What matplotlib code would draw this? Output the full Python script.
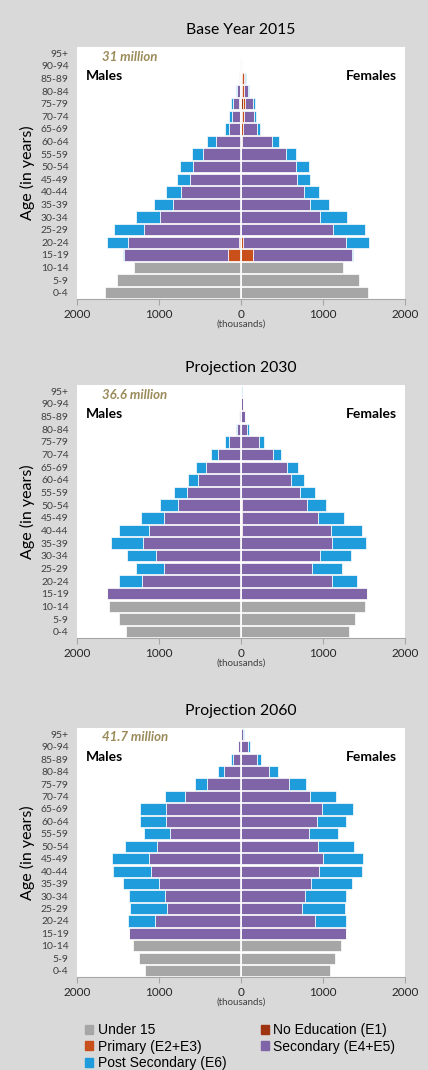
import numpy as np
import matplotlib
matplotlib.use("Agg")
import matplotlib.pyplot as plt
from matplotlib.patches import Patch

# grupos de edad (de abajo hacia arriba)
ages = ["0-4", "5-9", "10-14", "15-19", "20-24", "25-29", "30-34", "35-39", "40-44",
        "45-49", "50-54", "55-59", "60-64", "65-69", "70-74", "75-79", "80-84",
        "85-89", "90-94", "95+"]

# menores de 15 (0-4, 5-9, 10-14), en miles
m15_2015 = [1654, 1508, 1305]
f15_2015 = [1545, 1435, 1244]
m15_2030 = [1402, 1492, 1614]
f15_2030 = [1313, 1390, 1512]
m15_2060 = [1167, 1240, 1313]
f15_2060 = [1081, 1150, 1224]

# 15-19 ... 95+ por nivel educativo, en miles
# 2015
m_e1_2015 = [0, 0, 0, 0, 0, 0, 0, 0, 0, 0, 0, 4, 10, 6, 4, 1, 1]
m_e2_2015 = [154, 24, 4, 0, 0, 0, 0, 0, 2, 4, 8, 12, 14, 10, 4, 2, 1]
m_sec_2015 = [1268, 1354, 1183, 988, 829, 728, 622, 585, 459, 297, 134, 93, 73, 37, 12, 3, 1]
m_post_2015 = [12, 256, 362, 297, 232, 183, 159, 159, 142, 114, 49, 33, 24, 4, 8, 1, 1]
f_e1_2015 = [0, 0, 0, 0, 0, 0, 0, 0, 0, 6, 6, 15, 20, 14, 16, 5, 1]
f_e2_2015 = [146, 24, 0, 0, 0, 0, 0, 0, 2, 10, 14, 22, 28, 18, 16, 4, 1]
f_sec_2015 = [1207, 1256, 1122, 967, 846, 764, 683, 671, 541, 362, 175, 122, 102, 57, 20, 4, 2]
f_post_2015 = [16, 280, 394, 325, 232, 187, 154, 154, 126, 85, 41, 20, 16, 8, 4, 1, 1]

# 2030
m_e1_2030 = [0] * 17
m_e2_2030 = [0, 0, 0, 0, 0, 12, 12, 8, 0, 0, 0, 0, 0, 0, 0, 0, 0]
m_sec_2030 = [1630, 1203, 939, 1033, 1191, 1110, 927, 764, 659, 520, 427, 276, 142, 45, 20, 8, 3]
m_post_2030 = [0, 285, 337, 358, 390, 366, 285, 211, 163, 130, 122, 89, 53, 16, 8, 4, 3]
f_e1_2030 = [0] * 17
f_e2_2030 = [0, 0, 0, 0, 0, 12, 8, 8, 0, 0, 0, 0, 0, 0, 0, 0, 0]
f_sec_2030 = [1533, 1110, 866, 967, 1114, 1090, 935, 800, 724, 614, 561, 390, 224, 77, 45, 20, 4]
f_post_2030 = [0, 309, 362, 378, 411, 378, 313, 232, 175, 150, 130, 94, 53, 16, 8, 4, 4]

# 2060
m_e1_2060 = [0] * 17
m_e2_2060 = [0] * 17
m_sec_2060 = [1370, 1045, 898, 927, 996, 1093, 1118, 1020, 870, 911, 915, 683, 415, 211, 98, 33, 12]
m_post_2060 = [0, 329, 451, 439, 447, 467, 451, 390, 317, 325, 313, 240, 142, 65, 24, 8, 4]
f_e1_2060 = [0] * 17
f_e2_2060 = [0] * 17
f_sec_2060 = [1276, 902, 748, 780, 858, 955, 1000, 939, 829, 923, 992, 846, 585, 341, 195, 85, 28]
f_post_2060 = [0, 378, 516, 500, 500, 516, 488, 435, 358, 362, 370, 309, 203, 110, 49, 20, 9]

titles = ["Base Year 2015", "Projection 2030", "Projection 2060"]
totals = ["31 million", "36.6 million", "41.7 million"]

c_u15 = "#A6A6A6"
c_e1 = "#9E3410"
c_e2 = "#C9501A"
c_sec = "#8064A8"
c_post = "#1E9CDC"
bg = "#D9D9D9"

plt.rcParams["font.family"] = ["Lato", "DejaVu Sans"]

W, H = 428, 1070
fig = plt.figure(figsize=(W / 100, H / 100), dpi=100)
fig.patch.set_facecolor(bg)


def piramide(ax, m15, f15, m_cats, f_cats, title, total):
    y15 = np.arange(3)
    yedu = np.arange(3, 20)
    kw = dict(height=0.9, edgecolor="white", linewidth=0.5)
    ax.barh(y15, -np.array(m15), color=c_u15, **kw)
    ax.barh(y15, f15, color=c_u15, **kw)
    colores = [c_e1, c_e2, c_sec, c_post]
    for signo, cats in [(-1, m_cats), (1, f_cats)]:
        base = np.zeros(17)
        for vals, col in zip(cats, colores):
            vals = np.array(vals, dtype=float)
            ax.barh(yedu, signo * vals, left=signo * base, color=col, **kw)
            base += vals
    ax.axvline(0, color="white", lw=1.2)
    ax.set_xlim(-2000, 2000)
    ax.set_ylim(-0.5, 19.5)
    ax.set_yticks(np.arange(20))
    ax.set_yticklabels(ages, fontsize=7.5, color="#404040")
    ax.tick_params(axis="y", length=0, pad=6)
    ax.set_xticks([-2000, -1000, 0, 1000, 2000])
    ax.set_xticklabels(["2000", "1000", "0", "1000", "2000"], fontsize=8.5, color="#262626")
    ax.tick_params(axis="x", length=4, color="#A6A6A6", pad=3)
    ax.set_xlabel("(thousands)", fontsize=7, color="#404040", labelpad=0)
    for s in ["top", "right", "left"]:
        ax.spines[s].set_visible(False)
    ax.spines["bottom"].set_color("#A6A6A6")
    ax.text(0.027, 0.885, "Males", transform=ax.transAxes, fontsize=10,
            fontweight="bold", va="center", ha="left")
    ax.text(0.976, 0.885, "Females", transform=ax.transAxes, fontsize=10,
            fontweight="bold", va="center", ha="right")
    ax.text(0.076, 0.962, total, transform=ax.transAxes, fontsize=9.5, color="#9C8B5A",
            fontweight="bold", fontstyle="italic", va="center", ha="left")


tops = [47, 385, 728]
bottoms = [299, 638, 977]
datos = [
    (m15_2015, f15_2015, [m_e1_2015, m_e2_2015, m_sec_2015, m_post_2015],
     [f_e1_2015, f_e2_2015, f_sec_2015, f_post_2015]),
    (m15_2030, f15_2030, [m_e1_2030, m_e2_2030, m_sec_2030, m_post_2030],
     [f_e1_2030, f_e2_2030, f_sec_2030, f_post_2030]),
    (m15_2060, f15_2060, [m_e1_2060, m_e2_2060, m_sec_2060, m_post_2060],
     [f_e1_2060, f_e2_2060, f_sec_2060, f_post_2060]),
]

for i in range(3):
    t, b = tops[i], bottoms[i]
    ax = fig.add_axes([77 / W, 1 - b / H, 328 / W, (b - t) / H])
    ax.set_facecolor("white")
    m15, f15, mc, fc = datos[i]
    piramide(ax, m15, f15, mc, fc, titles[i], totals[i])
    fig.text(241 / W, 1 - (t - 17) / H, titles[i], ha="center", va="center", fontsize=11.3)
    fig.text(27 / W, 1 - ((t + b) / 2) / H, "Age (in years)", rotation=90,
             ha="center", va="center", fontsize=11.5)

# leyenda
handles = [Patch(color=c_u15, label="Under 15"),
           Patch(color=c_e2, label="Primary (E2+E3)"),
           Patch(color=c_post, label="Post Secondary (E6)"),
           Patch(color=c_e1, label="No Education (E1)"),
           Patch(color=c_sec, label="Secondary (E4+E5)")]
fig.legend(handles=handles, ncol=2, loc="upper left", bbox_to_anchor=(85 / W, 1 - 1023 / H),
           frameon=False, prop={"family": "Liberation Sans", "size": 10},
           handlelength=0.6, handleheight=0.6, handletextpad=0.3,
           labelspacing=0.18, columnspacing=2.5, borderaxespad=0, borderpad=0)

fig.savefig("out.png", dpi=100, facecolor=bg)
